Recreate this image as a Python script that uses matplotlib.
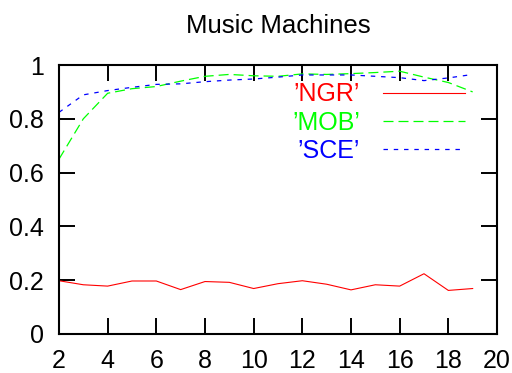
import matplotlib
matplotlib.use("Agg")
import matplotlib.pyplot as plt

plt.rcParams['font.family'] = ['Liberation Sans', 'DejaVu Sans']
plt.rcParams['lines.scale_dashes'] = False

# x positions (number of machines)
x = list(range(2, 20))

ngr = [0.198, 0.183, 0.178, 0.197, 0.197, 0.165, 0.195, 0.192, 0.169,
       0.187, 0.198, 0.185, 0.164, 0.183, 0.178, 0.224, 0.162, 0.169]
mob = [0.650, 0.800, 0.895, 0.912, 0.920, 0.940, 0.958, 0.965, 0.960,
       0.958, 0.967, 0.965, 0.968, 0.972, 0.977, 0.955, 0.935, 0.900]
sce = [0.824, 0.889, 0.905, 0.917, 0.928, 0.930, 0.938, 0.944, 0.948,
       0.955, 0.963, 0.963, 0.963, 0.958, 0.953, 0.942, 0.952, 0.965]

xticks = [2, 4, 6, 8, 10, 12, 14, 16, 18, 20]
yticks = [0, 0.2, 0.4, 0.6, 0.8, 1]
ytick_labels = ['0', '0.2', '0.4', '0.6', '0.8', '1']

fig = plt.figure(figsize=(5.12, 3.73), dpi=100)
ax = fig.add_axes([0.1152, 0.1046, 0.8555, 0.7211])

ax.plot(x, ngr, color='#ff0000', lw=0.8, label='\u2019NGR\u2019')
ax.plot(x, mob, color='#00ff00', lw=0.9, dashes=(7.2, 3.6), label='\u2019MOB\u2019')
ax.plot(x, sce, color='#0000ff', lw=0.9, dashes=(3.2, 4.2), label='\u2019SCE\u2019')

ax.set_xlim(2, 20)
ax.set_ylim(0, 1)
ax.set_xticks(xticks)
ax.set_yticks(yticks)
ax.set_yticklabels(ytick_labels)
ax.tick_params(direction='in', length=11.5, width=1.4, labelsize=18,
               top=True, right=True)
ax.tick_params(axis='x', pad=11)
ax.tick_params(axis='y', pad=11)
for s in ax.spines.values():
    s.set_linewidth(1.5)

ax.set_title('Music Machines', fontsize=18.5, pad=23)

leg = ax.legend(loc='upper right', bbox_to_anchor=(0.927, 0.935),
                frameon=False, markerfirst=False, fontsize=18,
                handlelength=3.3, handletextpad=0.9, labelspacing=0.17,
                borderpad=0, borderaxespad=0)
for t, l in zip(leg.get_texts(), leg.get_lines()):
    t.set_color(l.get_color())

fig.savefig('out.png', dpi=100)
